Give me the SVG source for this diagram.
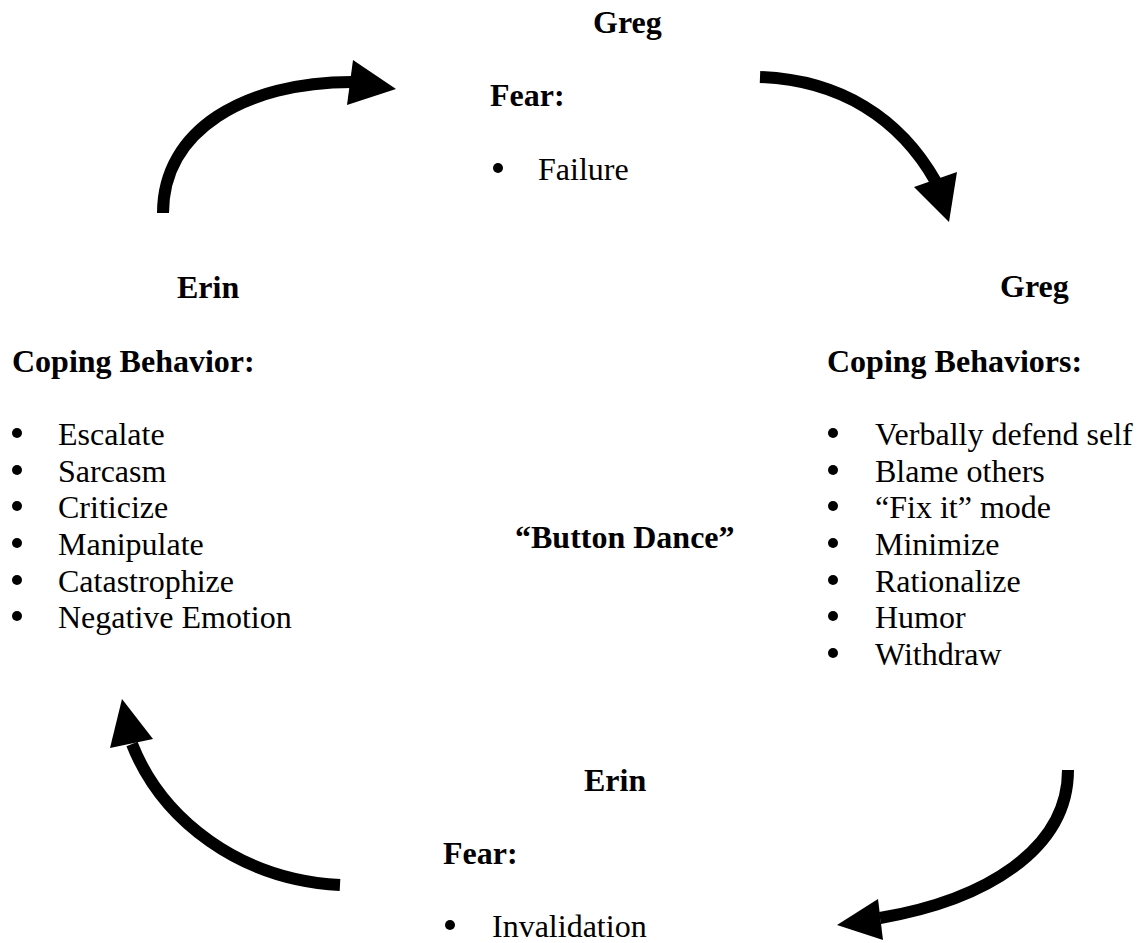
<svg xmlns="http://www.w3.org/2000/svg" width="1143" height="943" viewBox="0 0 1143 943">
<style>
text{font-family:"Liberation Serif","Times New Roman",serif;font-size:32px;fill:#000}
.b{font-weight:bold}
.dot{fill:#000}
.arc{fill:none;stroke:#000;stroke-width:12}
.head{fill:#000}
</style>
<rect width="1143" height="943" fill="#fff"/>
<g id="connectors">
<path class="arc" d="M163,213 C163,130 245,82 352,82"/>
<polygon class="head" points="353,60 396,89 347,105"/>
<path class="arc" d="M760,77 C840,80 900,118 936,182"/>
<polygon class="head" points="914,187 957,172 949,222"/>
<path class="arc" d="M1068,770 C1068,850 985,900 880,918"/>
<polygon class="head" points="878,899 883,940 837,925"/>
<path class="arc" d="M340,885 C240,880 162,820 132,744"/>
<polygon class="head" points="110,748 153,739 122,699"/>
</g>
<g id="greg-fear">
<text class="b" x="593" y="33">Greg</text>
<text class="b" x="490" y="106">Fear:</text>
<circle class="dot" cx="498" cy="168" r="5"/><text x="538" y="180">Failure</text>
</g>
<g id="greg-coping">
<text class="b" x="1000" y="297">Greg</text>
<text class="b" x="827" y="372">Coping Behaviors:</text>
<circle class="dot" cx="833" cy="433" r="5"/><text x="875" y="445">Verbally defend self</text>
<circle class="dot" cx="833" cy="470" r="5"/><text x="875" y="482">Blame others</text>
<circle class="dot" cx="833" cy="506" r="5"/><text x="875" y="518">“Fix it” mode</text>
<circle class="dot" cx="833" cy="543" r="5"/><text x="875" y="555">Minimize</text>
<circle class="dot" cx="833" cy="580" r="5"/><text x="875" y="592">Rationalize</text>
<circle class="dot" cx="833" cy="616" r="5"/><text x="875" y="628">Humor</text>
<circle class="dot" cx="833" cy="653" r="5"/><text x="875" y="665">Withdraw</text>
</g>
<g id="erin-fear">
<text class="b" x="584" y="791">Erin</text>
<text class="b" x="443" y="864">Fear:</text>
<circle class="dot" cx="450" cy="925" r="5"/><text x="492" y="937">Invalidation</text>
</g>
<g id="erin-coping">
<text class="b" x="177" y="298">Erin</text>
<text class="b" x="12" y="372">Coping Behavior:</text>
<circle class="dot" cx="17" cy="433" r="5"/><text x="58" y="445">Escalate</text>
<circle class="dot" cx="17" cy="470" r="5"/><text x="58" y="482">Sarcasm</text>
<circle class="dot" cx="17" cy="506" r="5"/><text x="58" y="518">Criticize</text>
<circle class="dot" cx="17" cy="543" r="5"/><text x="58" y="555">Manipulate</text>
<circle class="dot" cx="17" cy="580" r="5"/><text x="58" y="592">Catastrophize</text>
<circle class="dot" cx="17" cy="616" r="5"/><text x="58" y="628">Negative Emotion</text>
</g>
<g id="center">
<text class="b" x="515" y="548">“Button Dance”</text>
</g>
</svg>
